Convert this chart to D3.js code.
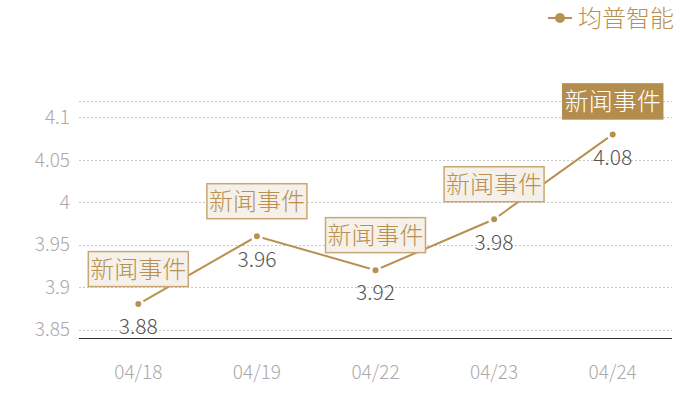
<!DOCTYPE html>
<html><head><meta charset="utf-8">
<script src="https://cdn.jsdelivr.net/npm/d3@7"></script>
<style>body{margin:0;background:#fff}svg{display:block}text{font-family:"Noto Sans CJK SC","Noto Sans",sans-serif;font-weight:300}</style>
</head><body><svg id="c" width="700" height="400"></svg>
<script>
const categories = ["04/18","04/19","04/22","04/23","04/24"];
const values = [3.88,3.96,3.92,3.98,4.08];
const eventLabels = ["新闻事件","新闻事件","新闻事件","新闻事件","新闻事件"];
const yTicks = [3.85,3.9,3.95,4,4.05,4.1];
const seriesName = "均普智能";

const gold = "#b8904f";
const svg = d3.select("#c");
const x = d3.scaleBand().domain(categories).range([79,672]);
const y = d3.scaleLinear().domain([3.84,4.12]).range([338,100.5]);

// grid
svg.append("g").selectAll("line").data(yTicks.concat([4.12])).join("line")
  .attr("x1",79).attr("x2",672)
  .attr("y1",d=>Math.round(y(d))+0.5).attr("y2",d=>Math.round(y(d))+0.5)
  .attr("stroke","#c8c8c8").attr("stroke-dasharray","2,2");
// y labels
svg.append("g").selectAll("text").data(yTicks).join("text")
  .attr("x",70).attr("y",d=>y(d)).attr("dy","0.35em").attr("text-anchor","end")
  .attr("fill","#aaa").attr("font-size",19).text(d=>d3.format("")(d));
// baseline
svg.append("line").attr("x1",79).attr("x2",672).attr("y1",338.5).attr("y2",338.5)
  .attr("stroke","#333").attr("stroke-width",1);
// x labels
svg.append("g").selectAll("text").data(categories).join("text")
  .attr("x",d=>x(d)+x.bandwidth()/2).attr("y",372).attr("dy","0.35em")
  .attr("text-anchor","middle").attr("fill","#aaa").attr("font-size",19).text(d=>d);

const cx = (d,i)=>x(categories[i])+x.bandwidth()/2;
// line
svg.append("path").datum(values)
  .attr("d",d3.line().x((d,i)=>cx(d,i)).y(d=>y(d)))
  .attr("fill","none").attr("stroke",gold).attr("stroke-width",2);
// points
svg.append("g").selectAll("circle").data(values).join("circle")
  .attr("cx",cx).attr("cy",d=>y(d)).attr("r",4.5)
  .attr("fill",gold).attr("stroke","#fff").attr("stroke-width",3);
// value labels
svg.append("g").selectAll("text").data(values).join("text")
  .attr("x",cx).attr("y",d=>y(d)+23).attr("dy","0.35em").attr("text-anchor","middle")
  .attr("fill","#555").attr("font-size",21).text(d=>d3.format(".2f")(d));
// event boxes
const ev = svg.append("g").selectAll("g").data(values).join("g")
  .attr("transform",(d,i)=>`translate(${cx(d,i)},${y(d)-(i===4?33:35)})`);
ev.append("rect").attr("x",-50).attr("y",-17.5).attr("width",100).attr("height",35)
  .attr("fill",(d,i)=>i===4?"#b48c4e":"#f5f0ea")
  .attr("stroke",(d,i)=>i===4?"#b48c4e":"#c9a774").attr("stroke-width",1.5);
ev.append("text").attr("text-anchor","middle").attr("dy","0.36em").attr("font-size",24)
  .attr("fill",(d,i)=>i===4?"#fff":gold).text((d,i)=>eventLabels[i]);
// legend
const lg = svg.append("g");
lg.append("line").attr("x1",548).attr("x2",572).attr("y1",18).attr("y2",18).attr("stroke",gold).attr("stroke-width",2);
lg.append("circle").attr("cx",560).attr("cy",18).attr("r",5).attr("fill",gold);
lg.append("text").attr("x",578).attr("y",18).attr("dy","0.36em").attr("font-size",24)
  .attr("fill",gold).text(seriesName);
</script></body></html>
